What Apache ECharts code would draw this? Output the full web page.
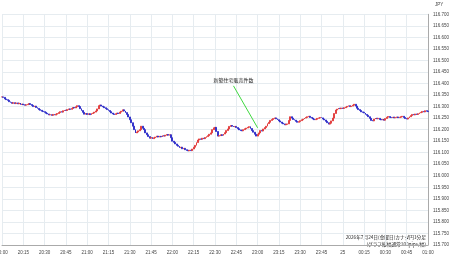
<!DOCTYPE html>
<html>
<head>
<meta charset="utf-8">
<script src="https://cdn.jsdelivr.net/npm/echarts@6/dist/echarts.min.js"></script>
<style>
  html, body { margin: 0; padding: 0; background: #fff; }
  #chart { width: 450px; height: 258px; }
</style>
</head>
<body>
<div id="chart"></div>
<script>
// 1-minute closes, 20:00 .. 01:00 (one row per 15 minutes)
const closes = [
    116.342, 116.340, 116.333, 116.330, 116.327, 116.321, 116.318, 116.314, 116.317, 116.313, 116.316, 116.312, 116.315, 116.309, 116.311,
    116.308, 116.306, 116.308, 116.310, 116.313, 116.309, 116.305, 116.300, 116.302, 116.296, 116.292, 116.287, 116.284, 116.280, 116.278,
    116.275, 116.271, 116.268, 116.264, 116.265, 116.262, 116.266, 116.263, 116.267, 116.270, 116.274, 116.278, 116.276, 116.282, 116.285,
    116.283, 116.287, 116.290, 116.288, 116.292, 116.296, 116.294, 116.299, 116.304, 116.300, 116.291, 116.283, 116.275, 116.267, 116.270,
    116.266, 116.269, 116.265, 116.270, 116.272, 116.276, 116.281, 116.290, 116.304, 116.307, 116.302, 116.299, 116.295, 116.291, 116.287,
    116.283, 116.278, 116.272, 116.268, 116.266, 116.269, 116.272, 116.270, 116.276, 116.280, 116.286, 116.281, 116.274, 116.266, 116.255,
    116.243, 116.230, 116.215, 116.200, 116.186, 116.190, 116.195, 116.200, 116.215, 116.206, 116.200, 116.186, 116.178, 116.170, 116.163,
    116.166, 116.161, 116.165, 116.168, 116.172, 116.168, 116.171, 116.169, 116.174, 116.172, 116.176, 116.179, 116.176, 116.178, 116.165,
    116.150, 116.145, 116.138, 116.132, 116.128, 116.122, 116.124, 116.117, 116.119, 116.113, 116.110, 116.108, 116.111, 116.109, 116.116,
    116.124, 116.132, 116.144, 116.155, 116.160, 116.158, 116.163, 116.161, 116.166, 116.170, 116.174, 116.180, 116.186, 116.200, 116.208,
    116.210, 116.192, 116.172, 116.174, 116.178, 116.175, 116.181, 116.187, 116.196, 116.203, 116.214, 116.218, 116.215, 116.212, 116.214,
    116.209, 116.204, 116.199, 116.196, 116.195, 116.200, 116.204, 116.207, 116.210, 116.213, 116.205, 116.196, 116.189, 116.180, 116.172,
    116.180, 116.186, 116.196, 116.194, 116.203, 116.209, 116.215, 116.226, 116.232, 116.240, 116.244, 116.248, 116.251, 116.247, 116.243,
    116.238, 116.233, 116.228, 116.225, 116.221, 116.223, 116.225, 116.240, 116.256, 116.250, 116.244, 116.241, 116.236, 116.232, 116.235,
    116.239, 116.243, 116.246, 116.250, 116.253, 116.256, 116.258, 116.253, 116.250, 116.246, 116.243, 116.245, 116.249, 116.251, 116.253,
    116.251, 116.246, 116.242, 116.236, 116.230, 116.224, 116.228, 116.238, 116.250, 116.270, 116.285, 116.289, 116.293, 116.291, 116.294,
    116.292, 116.295, 116.298, 116.301, 116.304, 116.300, 116.302, 116.306, 116.310, 116.302, 116.293, 116.287, 116.283, 116.277, 116.275,
    116.272, 116.266, 116.262, 116.256, 116.249, 116.240, 116.238, 116.246, 116.250, 116.247, 116.249, 116.244, 116.242, 116.244, 116.241,
    116.248, 116.254, 116.257, 116.253, 116.252, 116.255, 116.251, 116.253, 116.255, 116.252, 116.254, 116.256, 116.258, 116.253, 116.248,
    116.246, 116.251, 116.256, 116.261, 116.266, 116.264, 116.268, 116.266, 116.269, 116.273, 116.275, 116.279, 116.277, 116.282, 116.280,
    116.278
];

const tickLabels = ['20:00', '20:15', '20:30', '20:45', '21:00', '21:15', '21:30', '21:45', '22:00', '22:15', '22:30',
    '22:45', '23:00', '23:15', '23:30', '23:45', '25', '00:15', '00:30', '00:45', '01:00'];

const eventName = '新築住宅販売件数';
const eventMinute = 180;
const eventPrice = 116.208;
const labelMinute = 163;
const labelPrice = 116.39;

const noteLines = ['2026年7月24日(金曜日)カナダ円1分足', '(グラフ縦幅通常100pips/幅)'];

const minutes = closes.map((c, i) => String(i));
const candles = closes.map((c, i) => {
    const open = i === 0 ? c : closes[i - 1];
    return [open, c, Math.min(open, c), Math.max(open, c)];
});

const chart = echarts.init(document.getElementById('chart'), null, { renderer: 'canvas' });

const labelFont = { fontSize: 4.5, color: '#444', fontFamily: 'Liberation Sans' };

chart.setOption({
    animation: false,
    graphic: [{
        type: 'text',
        right: 24,
        bottom: 11,
        style: {
            text: noteLines.join('\n'),
            textAlign: 'right',
            fontSize: 4.7,
            lineHeight: 6.5,
            fill: '#222',
            fontFamily: 'Noto Sans CJK JP'
        }
    }],
    grid: {
        left: 2,
        right: 22,
        top: 14.3,
        bottom: 13,
        containLabel: false,
        outerBoundsMode: 'none'
    },
    xAxis: {
        type: 'category',
        data: minutes,
        boundaryGap: false,
        axisLine: { show: true, lineStyle: { color: '#aaa', width: 1 } },
        axisTick: { show: false },
        axisLabel: {
            ...labelFont,
            interval: 14,
            margin: 5,
            formatter: (v, i) => tickLabels[i / 15] || ''
        },
        splitLine: { show: true, interval: 14, lineStyle: { color: '#e6ecf0', width: 1 } }
    },
    yAxis: {
        type: 'value',
        position: 'right',
        min: 115.7,
        max: 116.7,
        interval: 0.05,
        name: 'JPY',
        nameLocation: 'end',
        nameGap: 7,
        nameTextStyle: { ...labelFont, align: 'left', padding: [0, 0, 0, 7] },
        axisLine: { show: true, lineStyle: { color: '#aaa', width: 1 } },
        axisTick: { show: false },
        axisLabel: {
            ...labelFont,
            margin: 5,
            formatter: v => v.toFixed(3)
        },
        splitLine: { show: true, lineStyle: { color: '#e6ecf0', width: 1 } }
    },
    series: [
        {
            type: 'candlestick',
            data: candles,
            barWidth: 1.4,
            itemStyle: {
                color: '#e23a3a',
                color0: '#2a2ac8',
                borderColor: '#e23a3a',
                borderColor0: '#2a2ac8',
                borderWidth: 0.9
            },
            markLine: {
                silent: true,
                symbol: 'none',
                lineStyle: { color: '#3fd83f', width: 1, type: 'solid' },
                label: { show: false },
                data: [[
                    { coord: [String(labelMinute), labelPrice] },
                    { coord: [String(eventMinute), eventPrice] }
                ]]
            },
            markPoint: {
                silent: true,
                symbol: 'circle',
                symbolSize: 0,
                data: [{ coord: [String(labelMinute), labelPrice], value: eventName }],
                label: {
                    show: true,
                    position: 'top',
                    distance: 3,
                    formatter: eventName,
                    fontSize: 5,
                    color: '#222',
                    fontFamily: 'Noto Sans CJK JP'
                }
            }
        }
    ]
});
</script>
</body>
</html>
